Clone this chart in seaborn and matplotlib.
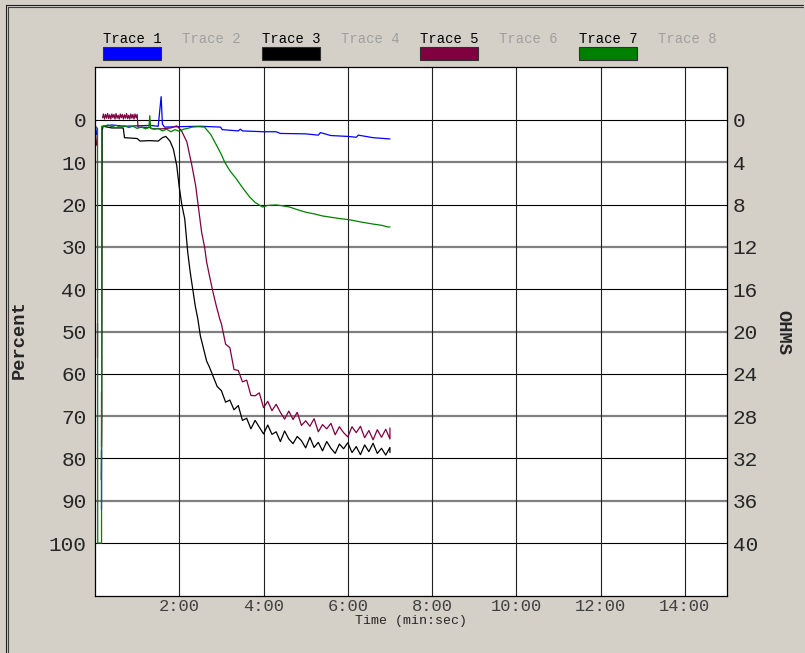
import numpy as np
import pandas as pd
import matplotlib
matplotlib.use("Agg")
import matplotlib.pyplot as plt
import seaborn as sns
from matplotlib.patches import Rectangle
from matplotlib.lines import Line2D

nan = np.nan

# time in minutes, value in percent (NaN = break in the trace)
t_trace1 = [0.0, 0.04, nan, 0.15, 0.15, nan, 0.18, 0.4, 0.7, 1.0, 1.3, 1.5, 1.57, 1.6, 1.65, 2.0, 2.5,
            2.98, 3.02, 3.4, 3.45, 3.5, 4.0, 4.3, 4.4, 5.0, 5.3, 5.35, 5.6, 6.0, 6.2, 6.25, 6.6, 7.0]
p_trace1 = [0.5, 3.5, nan, 92, 78, nan, 1.5, 1.2, 1.5, 1.4, 1.3, 1.5, -5.5, 1.0, 1.7, 1.6, 1.5,
            1.7, 2.3, 2.6, 2.2, 2.6, 2.8, 2.8, 3.2, 3.3, 3.6, 3.0, 3.7, 3.9, 4.1, 3.6, 4.2, 4.5]

t_trace3 = [0.15, 0.16, 0.17, 0.19, 0.4, 0.6, 0.67, 0.7, 1.0, 1.07, 1.3, 1.5, 1.6, 1.68, 1.78, 1.86,
            1.94, 2.0, 2.06, 2.13, 2.2, 2.26, 2.32, 2.38, 2.44, 2.5, 2.56, 2.65, 2.72, 2.8, 2.9,
            3.0, 3.1, 3.2, 3.3, 3.4, 3.5, 3.6, 3.7, 3.8, 3.9, 4.0, 4.1, 4.2, 4.3, 4.4, 4.5, 4.6,
            4.7, 4.8, 4.9, 5.0, 5.1, 5.2, 5.3, 5.4, 5.5, 5.6, 5.7, 5.8, 5.9, 6.0, 6.1, 6.2, 6.3,
            6.4, 6.5, 6.6, 6.7, 6.8, 6.9, 7.0, 7.0]
p_trace3 = [85, 70, 2.5, 1.5, 1.9, 1.9, 1.9, 4.2, 4.4, 5.0, 4.9, 5.0, 4.2, 3.9, 5.0, 6.9,
            10.8, 15.9, 20, 23.4, 31.2, 36, 40, 44, 47, 51, 53.4, 57, 58.5, 60.5, 63,
            64.0, 66.7, 66.2, 68.5, 67.5, 71.0, 70.5, 73.0, 71.0, 72.6, 74.2, 72.1, 74.3, 73.7, 76.0, 73.5, 75.4,
            76.5, 74.8, 75.8, 77.5, 75.0, 77.4, 76.2, 78.2, 76.0, 77.6, 78.8, 76.6, 77.7, 76.3, 78.6, 77.2, 79.1,
            76.8, 78.4, 76.4, 78.8, 77.6, 79.2, 77.4, 78.6]

t_trace5 = [0.0, 0.04, nan, 0.05, 0.05, nan, 0.15, 0.15, nan, 0.18, 0.2, 0.225, 0.25, 0.275, 0.3,
            0.325, 0.35, 0.375, 0.4, 0.425, 0.45, 0.475, 0.5, 0.525, 0.55, 0.575, 0.6, 0.625, 0.65,
            0.675, 0.7, 0.725, 0.75, 0.775, 0.8, 0.825, 0.85, 0.875, 0.9, 0.925, 0.95, 0.975, 1.0,
            1.02, 1.3, 1.35, 1.6, 1.8, 1.94, 2.05, 2.18, 2.3, 2.39, 2.49, 2.53, 2.6, 2.65, 2.72,
            2.8, 2.88, 2.96, 3.0, 3.1, 3.2, 3.3, 3.4, 3.5, 3.6, 3.7, 3.8, 3.9, 4.0, 4.1, 4.2, 4.3,
            4.4, 4.5, 4.6, 4.7, 4.8, 4.9, 5.0, 5.1, 5.2, 5.3, 5.4, 5.5, 5.6, 5.7, 5.8, 5.9, 6.0,
            6.1, 6.2, 6.3, 6.4, 6.5, 6.6, 6.7, 6.8, 6.9, 7.0, 7.0]
p_trace5 = [2, 6, nan, 56, 48, nan, 77, 64, nan, -0.5, -1.4, -0.2, -1.3, -0.4, -1.5,
            -0.3, -1.2, -0.2, -1.4, -0.5, -1.3, -0.2, -1.5, -0.4, -1.1, -0.2, -1.4, -0.5,
            -1.3, -0.2, -1.2, -0.4, -1.5, -0.3, -1.1, -0.2, -1.4, -0.4, -1.3, -0.2, -1.4, -0.5, -1.3,
            1.7, 1.8, 2.1, 2.1, 1.9, 1.4, 2.5, 5.2, 10.8, 15.6, 23.4, 26.5, 30, 33.6, 37,
            40.7, 44, 47, 48.2, 53.0, 53.8, 59.0, 59.2, 61.9, 61.5, 65.1, 65.2, 64.5, 68.0, 66.5, 68.7, 67.2,
            69.1, 70.7, 68.8, 70.8, 69.1, 72.2, 71.1, 72.4, 70.6, 73.7, 72.0, 73.0, 71.7, 74.4, 72.5, 73.9, 74.9,
            72.5, 73.9, 72.4, 75.1, 73.4, 75.6, 73.2, 75.0, 73.1, 75.4, 72.8]

t_trace7 = [0.0, 0.06, 0.065, 0.155, 0.16, 0.2, 0.3, 0.4, 0.5, 0.6, 0.7, 0.8, 0.9, 1.0, 1.1, 1.2,
            1.28, 1.3, 1.32, 1.4, 1.5, 1.6, 1.7, 1.8, 1.9, 2.0, 2.1, 2.2, 2.3, 2.45, 2.6, 2.75,
            2.89, 3.0, 3.08, 3.2, 3.36, 3.5, 3.67, 3.8, 3.98, 4.1, 4.3, 4.45, 4.62, 4.8, 5.0,
            5.2, 5.4, 5.6, 5.8, 6.04, 6.3, 6.59, 6.8, 6.95, 7.0]
p_trace7 = [1.5, 2, 100, 100, 1.5, 1.6, 1.2, 1.6, 1.3, 1.7, 1.4, 1.8, 1.5, 2.0, 1.7, 2.1,
            1.8, -1.0, 1.9, 2.2, 2.0, 2.6, 2.2, 2.8, 2.3, 2.7, 2.2, 2.0, 1.7, 1.6, 1.7, 3.5,
            6.1, 8.2, 10, 12, 14, 16, 18.2, 19.5, 20.6, 20.2, 20.1, 20.3, 20.6, 21.2, 21.8,
            22.2, 22.7, 23.0, 23.3, 23.6, 24.1, 24.6, 24.9, 25.3, 25.3]

trace_names = ["Trace 1", "Trace 2", "Trace 3", "Trace 4", "Trace 5", "Trace 6", "Trace 7", "Trace 8"]
trace_colors = ["#0000ff", None, "#000000", None, "#800040", None, "#008000", None]
x_ticks = [2, 4, 6, 8, 10, 12, 14]
x_labels = ["2:00", "4:00", "6:00", "8:00", "10:00", "12:00", "14:00"]
pct_ticks = list(range(0, 101, 10))
ohm_ticks = list(range(0, 41, 4))

# build one long table, each NaN starts a new segment
frames = []
for name, t, p in [("Trace 1", t_trace1, p_trace1), ("Trace 3", t_trace3, p_trace3),
                   ("Trace 5", t_trace5, p_trace5), ("Trace 7", t_trace7, p_trace7)]:
    d = pd.DataFrame({"t": t, "p": p})
    d["seg"] = d["p"].isna().cumsum()
    d["trace"] = name
    frames.append(d.dropna())
df = pd.concat(frames, ignore_index=True)
df["unit"] = df["trace"] + "_" + df["seg"].astype(str)

sns.set_style("white")
mono = ["Liberation Mono", "DejaVu Sans Mono"]
plt.rcParams["font.family"] = mono

W, H = 805, 653
fig = plt.figure(figsize=(W / 100, H / 100), dpi=100, facecolor="#d4d0c8")
ax = fig.add_axes([95 / W, 1 - 596 / H, (727 - 95) / W, (596 - 67) / H])
ax.set_facecolor("white")

# grid
for v in pct_ticks:
    if v % 20 == 0:
        ax.axhline(v, color="black", lw=0.8, zorder=0)
    else:
        ax.axhline(v, color="#808080", lw=1.6, zorder=0)
for v in x_ticks:
    ax.axvline(v, color="#202020", lw=0.8, zorder=0)

palette = {n: c for n, c in zip(trace_names, trace_colors) if c}
sns.lineplot(data=df, x="t", y="p", hue="trace", units="unit", estimator=None, sort=False,
             palette=palette, lw=0.9, ax=ax, legend=False)

ax.set_xlim(0, 15)
ax.set_ylim(112.5, -12.5)
ax.set_xticks(x_ticks)
ax.set_xticklabels(x_labels, fontsize=12.3, color="#404040")
ax.set_yticks(pct_ticks)
ax.set_yticklabels([str(v) for v in pct_ticks], fontsize=15.2)
ax.tick_params(length=0, pad=6)
ax.tick_params(axis="x", pad=2)
ax.set_xlabel("Time (min:sec)", fontsize=9.5, labelpad=1)
ax.set_ylabel("")
for s in ax.spines.values():
    s.set_color("black")
    s.set_linewidth(0.9)

ax2 = ax.twinx()
ax2.set_ylim(112.5 / 2.5, -12.5 / 2.5)
ax2.set_yticks(ohm_ticks)
ax2.set_yticklabels([str(v) for v in ohm_ticks], fontsize=15.2)
ax2.tick_params(length=0, pad=4)
for s in ax2.spines.values():
    s.set_visible(False)

fig.text(19 / W, 1 - 340 / H, "Percent", rotation=90, ha="center", va="center",
         fontsize=13.5, fontweight="bold")
fig.text(783 / W, 1 - 333 / H, "OHMS", rotation=-90, ha="center", va="center",
         fontsize=13.5, fontweight="bold")

# trace legend along the top
for i, (name, col) in enumerate(zip(trace_names, trace_colors)):
    x0 = 103 + i * 79.25
    fig.text(x0 / W, 1 - 39 / H, name, ha="left", va="center", fontsize=10,
             color="black" if col else "#a0a0a0")
    if col:
        fig.add_artist(Rectangle((x0 / W, 1 - 60 / H), 58 / W, 13 / H, transform=fig.transFigure,
                                 facecolor=col, edgecolor="#303030", lw=0.8))

# window border (left and top)
for off, c in [(6, "#202020"), (8, "#404040")]:
    fig.add_artist(Line2D([off / W, off / W], [0, 1 - (off - 1) / H], color=c, lw=0.8,
                          transform=fig.transFigure))
    fig.add_artist(Line2D([off / W, 803 / W], [1 - (off - 1) / H, 1 - (off - 1) / H], color=c,
                          lw=0.8, transform=fig.transFigure))

fig.savefig("out.png", dpi=100, facecolor=fig.get_facecolor())
